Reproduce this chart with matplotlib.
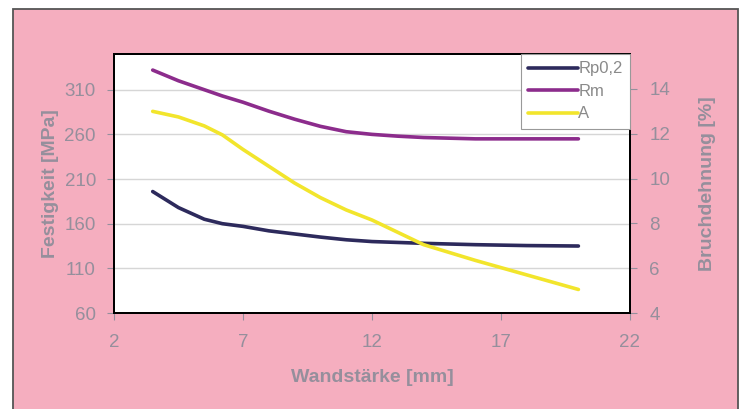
import matplotlib.pyplot as plt
from matplotlib.patches import Rectangle

plt.rcParams['font.family'] = ['Liberation Sans', 'DejaVu Sans']

# Wandstaerke [mm]
wand = [3.5, 4.5, 5.5, 6.2, 7, 8, 9, 10, 11, 12, 13, 14, 16, 18, 20]
rp02 = [196, 178, 165, 160, 157, 152, 148.5, 145, 142, 140, 139, 138, 136.5, 135.5, 135]
rm = [332, 320, 310, 303, 296, 286, 277, 269, 263, 260, 258, 256.5, 255, 255, 255]
bruch = [13.0, 12.75, 12.35, 11.95, 11.3, 10.55, 9.8, 9.15, 8.6, 8.15, 7.6, 7.05, 6.35, 5.7, 5.05]

pink = '#f5aebf'
txt = '#958f9c'
fs = 13.5

fig = plt.figure(figsize=(7.44, 4.09), dpi=100, facecolor='white')
fig.patches.append(Rectangle((12.5 / 744, -0.2), (737.5 - 12.5) / 744, 1.2 - 8.5 / 409,
                             transform=fig.transFigure, facecolor=pink,
                             edgecolor='#555555', lw=1.3, zorder=-1))

ax = fig.add_axes([114 / 744, (409 - 313) / 409, 516 / 744, 259 / 409])
ax.set_facecolor('white')
ax2 = ax.twinx()

l1, = ax.plot(wand, rp02, color='#2d2a5c', lw=2.6, solid_capstyle='round')
l2, = ax.plot(wand, rm, color='#8c2c8c', lw=2.6, solid_capstyle='round')
l3, = ax2.plot(wand, bruch, color='#f2e52c', lw=2.6, solid_capstyle='round')

ax.set_xlim(2, 22)
ax.set_ylim(60, 350)
ax2.set_ylim(4, 15.56)
ax.set_xticks([2, 7, 12, 17, 22])
ax.set_yticks([60, 110, 160, 210, 260, 310])
ax2.set_yticks([4, 6, 8, 10, 12, 14])
ax.yaxis.grid(True, color='#d6d6d6', lw=1)
ax.set_axisbelow(True)

for a in (ax, ax2):
    a.tick_params(colors=txt, labelsize=fs, length=5, width=0.8, direction='out')
    for s in a.spines.values():
        s.set_color('black')
        s.set_linewidth(1.4)
ax.tick_params(axis='y', pad=8)
ax2.tick_params(axis='y', pad=9)
ax.tick_params(axis='x', pad=10)

ax.set_xlabel('Wandstärke [mm]', color=txt, fontsize=14, fontweight='bold', labelpad=13)
ax.set_ylabel('Festigkeit [MPa]', color=txt, fontsize=14, fontweight='bold', labelpad=4)
ax2.set_ylabel('Bruchdehnung [%]', color=txt, fontsize=14, fontweight='bold', labelpad=21)

leg = ax2.legend([l1, l2, l3], ['Rp0,2', 'Rm', 'A'], loc='upper right',
                 bbox_to_anchor=(1, 1), borderaxespad=0, fancybox=False,
                 framealpha=1, edgecolor='#999999', fontsize=12,
                 handlelength=3.0, handletextpad=0.0, labelspacing=0.45,
                 borderpad=0.45)
for t in leg.get_texts():
    t.set_color('#8a8a8a')
leg.get_frame().set_linewidth(0.8)

fig.savefig('out.png', dpi=100, facecolor='white')
